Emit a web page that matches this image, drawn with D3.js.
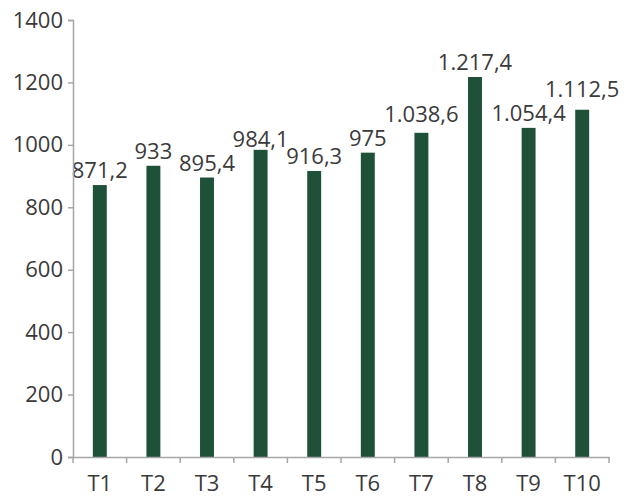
<!DOCTYPE html>
<html>
<head>
<meta charset="utf-8">
<script src="https://cdn.jsdelivr.net/npm/d3@7"></script>
<style>
  body { margin: 0; background: #fff; }
  text { font-family: "Open Sans", sans-serif; fill: #3a3a3a; }
</style>
</head>
<body>
<div id="chart"></div>
<script>
// bar chart, values per period T1..T10
const categories = ["T1", "T2", "T3", "T4", "T5", "T6", "T7", "T8", "T9", "T10"];
const values = [871.2, 933, 895.4, 984.1, 916.3, 975, 1038.6, 1217.4, 1054.4, 1112.5];
const yTicks = [0, 200, 400, 600, 800, 1000, 1200, 1400];

var width = 640,
    height = 501,
    margin = {top: 20, right: 31, bottom: 44, left: 73};

var svg = d3.select("#chart")
  .append("svg")
    .attr("width", width)
    .attr("height", height);

var x = d3.scaleBand()
  .domain(categories)
  .range([margin.left, width - margin.right])
  .paddingInner(0.74)
  .paddingOuter(0.37);

var y = d3.scaleLinear()
  .domain([0, 1400])
  .range([height - margin.bottom, margin.top]);

// 1.217,4 style labels
var fmt = function(v) {
  var s = d3.format(",")(v);
  return s.replace(/,/g, "#").replace(/\./g, ",").replace(/#/g, ".");
};

// bars
svg.selectAll("rect.bar")
  .data(values)
  .enter()
  .append("rect")
    .attr("class", "bar")
    .attr("x", (d, i) => x(categories[i]))
    .attr("y", d => y(d))
    .attr("width", x.bandwidth())
    .attr("height", d => y(0) - y(d))
    .attr("fill", "#1f5139");

// value labels
var labels = svg.selectAll("text.val")
  .data(values)
  .enter()
  .append("text")
    .attr("class", "val")
    .attr("x", (d, i) => x(categories[i]) + x.bandwidth() / 2)
    .attr("y", d => y(d) - 7)
    .attr("text-anchor", "middle")
    .style("font-size", "22px")
    .text(d => fmt(d));

// push a label up if it runs into its left neighbour
var nodes = labels.nodes();
for (var i = 1; i < nodes.length; i++) {
  var a = nodes[i - 1].getBBox(), b = nodes[i].getBBox();
  var overlapX = a.x + a.width > b.x && b.x + b.width > a.x;
  var overlapY = a.y + a.height > b.y && b.y + b.height > a.y;
  if (overlapX && overlapY && values[i] > values[i - 1]) {
    var cur = +d3.select(nodes[i]).attr("y");
    d3.select(nodes[i]).attr("y", cur - (b.y + b.height - a.y) + 6);
  }
}

// y axis
var yAxis = svg.append("g")
  .attr("transform", "translate(" + margin.left + ",0)")
  .call(d3.axisLeft(y).tickValues(yTicks).tickSize(5).tickPadding(5).tickFormat(d3.format("d")));

// x axis, ticks on band edges
var xAxis = svg.append("g")
  .attr("transform", "translate(0," + y(0) + ")")
  .call(d3.axisBottom(x).tickSize(0).tickPadding(18));

var step = x.step();
xAxis.selectAll("line.edge")
  .data(d3.range(categories.length + 1))
  .enter()
  .append("line")
    .attr("class", "edge")
    .attr("x1", i => margin.left + i * step)
    .attr("x2", i => margin.left + i * step)
    .attr("y1", 0)
    .attr("y2", 6);

[yAxis, xAxis].forEach(function(g) {
  g.selectAll("path, line").attr("stroke", "#a6a6a6").attr("stroke-width", 1.5);
  g.selectAll("text").style("font-size", "22px").attr("fill", "#3a3a3a");
});
</script>
</body>
</html>
